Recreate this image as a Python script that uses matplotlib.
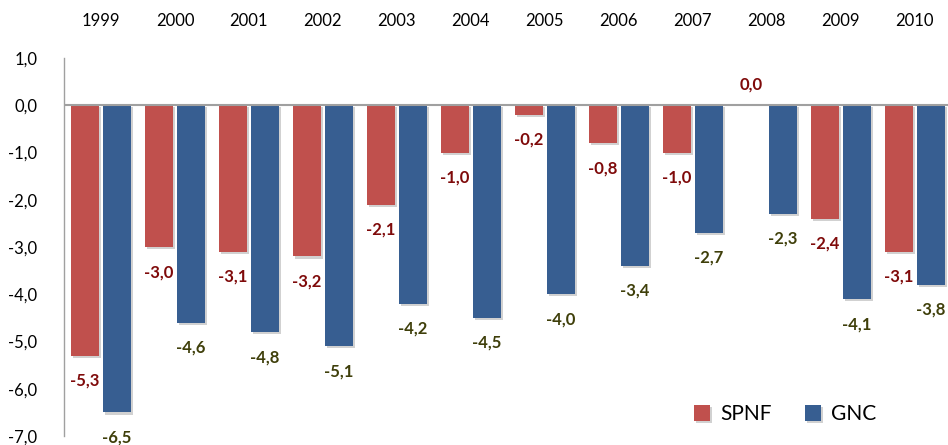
import numpy as np
import matplotlib.pyplot as plt
import matplotlib.patheffects as pe

# Resultado primário (% do PIB)
anos = ['1999', '2000', '2001', '2002', '2003', '2004',
        '2005', '2006', '2007', '2008', '2009', '2010']
spnf = [-5.3, -3.0, -3.1, -3.2, -2.1, -1.0, -0.2, -0.8, -1.0, 0.0, -2.4, -3.1]
gnc = [-6.5, -4.6, -4.8, -5.1, -4.2, -4.5, -4.0, -3.4, -2.7, -2.3, -4.1, -3.8]

plt.rcParams['font.family'] = ['Lato', 'DejaVu Sans']

cor_spnf = '#C0504D'
cor_gnc = '#375E91'
txt_spnf = '#7F0A0A'
txt_gnc = '#3F3F0A'

fig = plt.figure(figsize=(9.48, 4.45), dpi=100)
ax = fig.add_axes([0.0675, 0.020, 0.9325, 0.8497])

x = np.arange(len(anos))
w = 0.38
off = 0.216
sombra = [pe.SimplePatchShadow(offset=(1.5, -1.5), shadow_rgbFace='#000000', alpha=0.18), pe.Normal()]

b1 = ax.bar(x - off, spnf, w, color=cor_spnf, label='SPNF', zorder=3)
b2 = ax.bar(x + off, gnc, w, color=cor_gnc, label='GNC', zorder=3)
for b in list(b1) + list(b2):
    b.set_path_effects(sombra)

def rotulo(xs, vals, cor):
    for xi, v in zip(xs, vals):
        txt = f'{v:.1f}'.replace('.', ',')
        dy = 21 if v >= 0 else -25
        ax.annotate(txt, (xi, v), xytext=(0, dy), textcoords='offset pixels',
                    ha='center', va='center', fontsize=12, fontweight='bold', color=cor)

rotulo(x - off, spnf, txt_spnf)
rotulo(x + off, gnc, txt_gnc)

ax.axhline(0, color='#A0A0A0', lw=1.5, zorder=4)
ax.set_xlim(-0.5, 11.45)
ax.set_ylim(-7, 1)
ax.set_yticks(np.arange(-7, 1.01, 1))
ax.set_yticklabels([f'{v:.1f}'.replace('.', ',') for v in np.arange(-7, 1.01, 1)])
ax.xaxis.tick_top()
ax.set_xticks(x)
ax.set_xticklabels(anos)
ax.tick_params(axis='x', length=0, pad=21, labelsize=12)
ax.tick_params(axis='y', length=0, pad=19, labelsize=12)

for s in ['top', 'right', 'bottom']:
    ax.spines[s].set_visible(False)
ax.spines['left'].set_color('#A0A0A0')
ax.spines['left'].set_linewidth(1.0)

ax.legend(loc='lower right', bbox_to_anchor=(0.94, -0.018), ncol=2, frameon=False,
          fontsize=15, handlelength=0.75, handleheight=0.75, columnspacing=1.6,
          handletextpad=0.5)

fig.savefig('out.png', dpi=100)
